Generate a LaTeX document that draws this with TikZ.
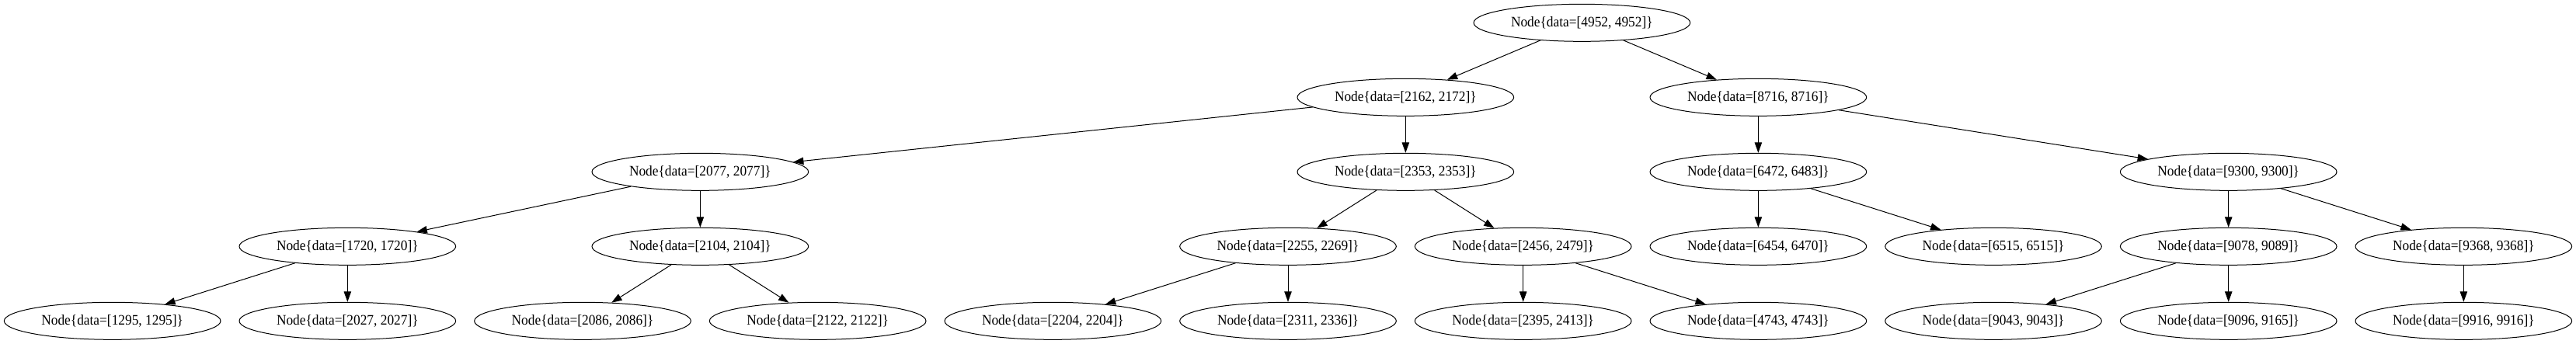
\documentclass[tikz,border=0pt]{standalone}
\usepackage{fontspec}
\setmainfont[FakeStretch=0.93]{Liberation Serif}
\usetikzlibrary{shapes.geometric,arrows.meta}
\begin{document}
\begin{tikzpicture}[x=1pt,y=1pt,
  tnode/.style={ellipse,draw,line width=0.75pt,minimum width=209pt,minimum height=36pt,inner sep=0pt,font=\fontsize{14}{16}\selectfont},
  conn/.style={-{Triangle[length=10pt,width=7pt]},line width=0.75pt}]
\fill[white] (0,0) rectangle (2487,332);
\useasboundingbox (0,0) rectangle (2487,332);
% level 1
\node[tnode] (n4952) at (1527.25,310) {Node\{data=[4952, 4952]\}};
% level 2
\node[tnode] (n2162) at (1357,238) {Node\{data=[2162, 2172]\}};
\node[tnode] (n8716) at (1697.5,238) {Node\{data=[8716, 8716]\}};
% level 3
\node[tnode] (n2077) at (676,166) {Node\{data=[2077, 2077]\}};
\node[tnode] (n2353) at (1357,166) {Node\{data=[2353, 2353]\}};
\node[tnode] (n6472) at (1697.5,166) {Node\{data=[6472, 6483]\}};
\node[tnode] (n9300) at (2151.5,166) {Node\{data=[9300, 9300]\}};
% level 4
\node[tnode] (n1720) at (335.5,94) {Node\{data=[1720, 1720]\}};
\node[tnode] (n2104) at (676,94) {Node\{data=[2104, 2104]\}};
\node[tnode] (n2255) at (1243.5,94) {Node\{data=[2255, 2269]\}};
\node[tnode] (n2456) at (1470.5,94) {Node\{data=[2456, 2479]\}};
\node[tnode] (n6454) at (1697.5,94) {Node\{data=[6454, 6470]\}};
\node[tnode] (n6515) at (1924.5,94) {Node\{data=[6515, 6515]\}};
\node[tnode] (n9078) at (2151.5,94) {Node\{data=[9078, 9089]\}};
\node[tnode] (n9368) at (2378.5,94) {Node\{data=[9368, 9368]\}};
% level 5
\node[tnode] (n1295) at (108.5,22) {Node\{data=[1295, 1295]\}};
\node[tnode] (n2027) at (335.5,22) {Node\{data=[2027, 2027]\}};
\node[tnode] (n2086) at (562.5,22) {Node\{data=[2086, 2086]\}};
\node[tnode] (n2122) at (789.5,22) {Node\{data=[2122, 2122]\}};
\node[tnode] (n2204) at (1016.5,22) {Node\{data=[2204, 2204]\}};
\node[tnode] (n2311) at (1243.5,22) {Node\{data=[2311, 2336]\}};
\node[tnode] (n2395) at (1470.5,22) {Node\{data=[2395, 2413]\}};
\node[tnode] (n4743) at (1697.5,22) {Node\{data=[4743, 4743]\}};
\node[tnode] (n9043) at (1924.5,22) {Node\{data=[9043, 9043]\}};
\node[tnode] (n9096) at (2151.5,22) {Node\{data=[9096, 9165]\}};
\node[tnode] (n9916) at (2378.5,22) {Node\{data=[9916, 9916]\}};
% edges
\draw[conn] (n4952) -- (n2162);
\draw[conn] (n4952) -- (n8716);
\draw[conn] (n2162) -- (n2077);
\draw[conn] (n2162) -- (n2353);
\draw[conn] (n8716) -- (n6472);
\draw[conn] (n8716) -- (n9300);
\draw[conn] (n2077) -- (n1720);
\draw[conn] (n2077) -- (n2104);
\draw[conn] (n2353) -- (n2255);
\draw[conn] (n2353) -- (n2456);
\draw[conn] (n6472) -- (n6454);
\draw[conn] (n6472) -- (n6515);
\draw[conn] (n9300) -- (n9078);
\draw[conn] (n9300) -- (n9368);
\draw[conn] (n1720) -- (n1295);
\draw[conn] (n1720) -- (n2027);
\draw[conn] (n2104) -- (n2086);
\draw[conn] (n2104) -- (n2122);
\draw[conn] (n2255) -- (n2204);
\draw[conn] (n2255) -- (n2311);
\draw[conn] (n2456) -- (n2395);
\draw[conn] (n2456) -- (n4743);
\draw[conn] (n9078) -- (n9043);
\draw[conn] (n9078) -- (n9096);
\draw[conn] (n9368) -- (n9916);
\end{tikzpicture}
\end{document}
